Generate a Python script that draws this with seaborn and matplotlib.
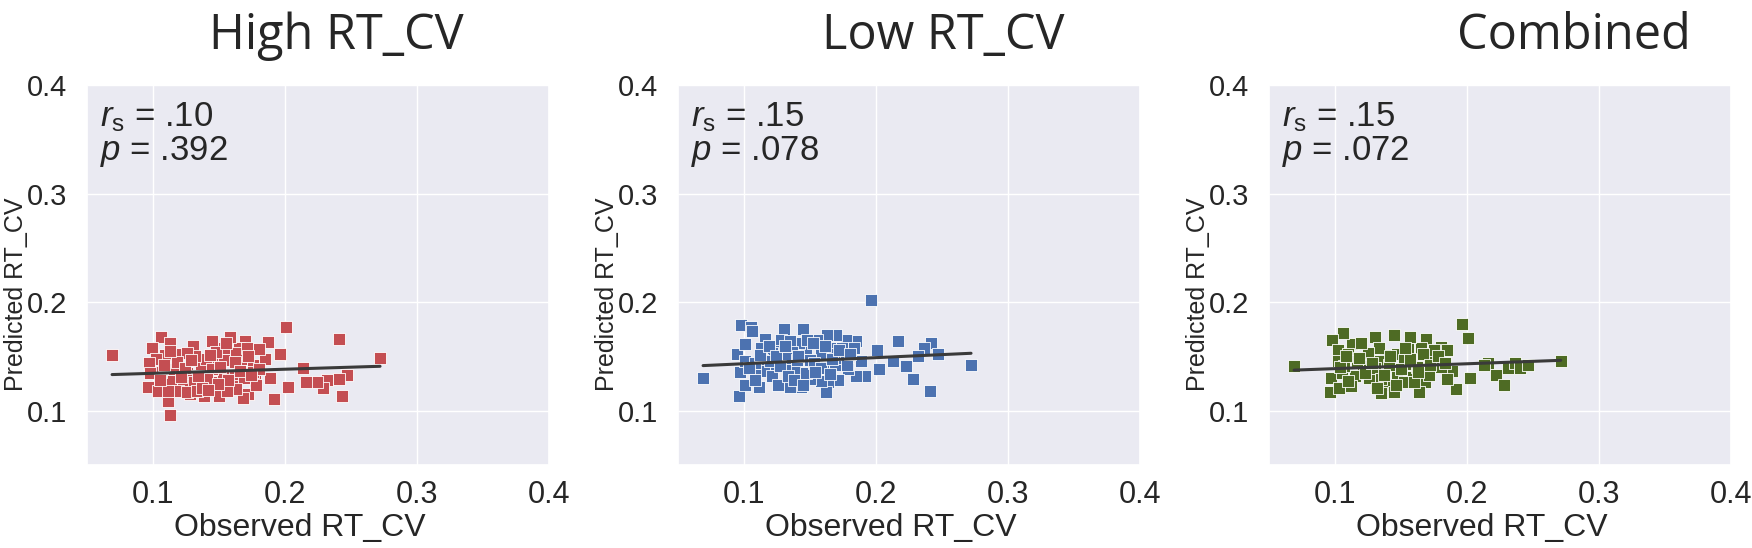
import numpy as np
import pandas as pd
import matplotlib
matplotlib.use("Agg")
import matplotlib.pyplot as plt
import seaborn as sns

# observed / predicted RT_CV
high_x = [0.069, 0.106, 0.113, 0.111, 0.201, 0.241, 0.272, 0.243, 0.247, 0.241,
          0.232, 0.229, 0.224, 0.216, 0.214, 0.202, 0.192, 0.196, 0.187, 0.189,
          0.185, 0.180, 0.176, 0.177, 0.170, 0.165, 0.172, 0.168, 0.158, 0.154,
          0.145, 0.147, 0.154, 0.167, 0.161, 0.160, 0.150, 0.139, 0.128, 0.146,
          0.136, 0.140, 0.130, 0.119, 0.113, 0.109, 0.099, 0.102, 0.097, 0.096,
          0.104, 0.114, 0.116, 0.126, 0.123, 0.132, 0.169, 0.153, 0.176, 0.106,
          0.145, 0.131, 0.119, 0.163, 0.141, 0.180, 0.098, 0.126, 0.148, 0.156,
          0.111, 0.163, 0.171, 0.126, 0.133,
          0.108, 0.118, 0.124, 0.134, 0.143, 0.151, 0.157, 0.162, 0.172, 0.178,
          0.105, 0.121, 0.137, 0.149, 0.166, 0.113, 0.129, 0.155, 0.174, 0.142]
high_y = [0.151, 0.168, 0.096, 0.109, 0.177, 0.166, 0.149, 0.114, 0.133, 0.129,
          0.128, 0.121, 0.126, 0.126, 0.139, 0.122, 0.111, 0.152, 0.163, 0.130,
          0.148, 0.157, 0.142, 0.127, 0.164, 0.158, 0.115, 0.112, 0.168, 0.158,
          0.164, 0.147, 0.147, 0.148, 0.133, 0.123, 0.114, 0.114, 0.115, 0.126,
          0.142, 0.148, 0.160, 0.152, 0.162, 0.151, 0.158, 0.148, 0.144, 0.122,
          0.118, 0.127, 0.138, 0.135, 0.124, 0.150, 0.130, 0.132, 0.136, 0.136,
          0.138, 0.126, 0.118, 0.120, 0.129, 0.138, 0.135, 0.153, 0.154, 0.118,
          0.118, 0.153, 0.158, 0.117, 0.118,
          0.142, 0.145, 0.139, 0.132, 0.151, 0.140, 0.128, 0.145, 0.150, 0.124,
          0.128, 0.131, 0.121, 0.125, 0.137, 0.155, 0.147, 0.162, 0.133, 0.119]

low_x = [0.069, 0.096, 0.098, 0.105, 0.106, 0.196, 0.272, 0.241, 0.242, 0.236,
         0.247, 0.232, 0.228, 0.223, 0.217, 0.213, 0.202, 0.201, 0.192, 0.185,
         0.185, 0.189, 0.179, 0.177, 0.170, 0.169, 0.171, 0.164, 0.162, 0.160,
         0.158, 0.163, 0.155, 0.165, 0.158, 0.145, 0.147, 0.142, 0.150, 0.150,
         0.143, 0.135, 0.139, 0.130, 0.128, 0.135, 0.136, 0.128, 0.121, 0.116,
         0.113, 0.114, 0.115, 0.121, 0.126, 0.111, 0.101, 0.097, 0.095, 0.101,
         0.101, 0.108, 0.124, 0.131, 0.147, 0.183, 0.175, 0.168, 0.153, 0.133,
         0.108, 0.120, 0.174, 0.158, 0.140,
         0.104, 0.112, 0.119, 0.127, 0.133, 0.141, 0.148, 0.154, 0.161, 0.167,
         0.172, 0.178, 0.108, 0.124, 0.138, 0.152, 0.165, 0.180, 0.145, 0.131]
low_y = [0.130, 0.114, 0.179, 0.177, 0.173, 0.202, 0.142, 0.118, 0.162, 0.158,
         0.152, 0.150, 0.129, 0.141, 0.164, 0.146, 0.138, 0.156, 0.132, 0.132,
         0.164, 0.146, 0.138, 0.165, 0.170, 0.142, 0.128, 0.126, 0.117, 0.140,
         0.127, 0.170, 0.165, 0.158, 0.153, 0.175, 0.158, 0.162, 0.147, 0.129,
         0.122, 0.122, 0.137, 0.175, 0.165, 0.164, 0.154, 0.155, 0.153, 0.166,
         0.158, 0.147, 0.137, 0.132, 0.124, 0.122, 0.124, 0.136, 0.152, 0.146,
         0.161, 0.144, 0.143, 0.142, 0.135, 0.158, 0.149, 0.152, 0.144, 0.149,
         0.133, 0.146, 0.158, 0.139, 0.147,
         0.139, 0.151, 0.160, 0.141, 0.132, 0.150, 0.165, 0.136, 0.160, 0.148,
         0.156, 0.142, 0.128, 0.150, 0.128, 0.162, 0.134, 0.152, 0.124, 0.160]

comb_x = [0.069, 0.271, 0.196, 0.201, 0.202, 0.192, 0.189, 0.185, 0.216, 0.222,
          0.228, 0.231, 0.236, 0.240, 0.246, 0.213, 0.180, 0.185, 0.175, 0.169,
          0.168, 0.164, 0.165, 0.157, 0.155, 0.159, 0.155, 0.147, 0.145, 0.147,
          0.140, 0.145, 0.135, 0.131, 0.126, 0.130, 0.138, 0.133, 0.121, 0.113,
          0.115, 0.112, 0.106, 0.098, 0.102, 0.102, 0.097, 0.105, 0.096, 0.103,
          0.110, 0.130, 0.141, 0.152, 0.162, 0.171, 0.180, 0.133, 0.117, 0.125,
          0.135, 0.152, 0.175, 0.107,
          0.104, 0.110, 0.118, 0.123, 0.128, 0.137, 0.142, 0.150, 0.157, 0.160,
          0.167, 0.172, 0.178, 0.108, 0.132, 0.146, 0.163, 0.183, 0.120, 0.153]
comb_y = [0.141, 0.146, 0.180, 0.167, 0.130, 0.120, 0.137, 0.129, 0.144, 0.133,
          0.124, 0.139, 0.144, 0.139, 0.142, 0.142, 0.159, 0.156, 0.146, 0.166,
          0.126, 0.117, 0.158, 0.168, 0.157, 0.131, 0.143, 0.152, 0.170, 0.133,
          0.124, 0.117, 0.116, 0.123, 0.130, 0.168, 0.151, 0.146, 0.141, 0.161,
          0.132, 0.123, 0.172, 0.165, 0.156, 0.146, 0.130, 0.135, 0.117, 0.121,
          0.152, 0.139, 0.142, 0.147, 0.140, 0.133, 0.140, 0.158, 0.146, 0.153,
          0.129, 0.126, 0.156, 0.141,
          0.140, 0.127, 0.149, 0.135, 0.144, 0.133, 0.150, 0.138, 0.148, 0.126,
          0.152, 0.142, 0.150, 0.150, 0.121, 0.124, 0.136, 0.144, 0.162, 0.158]

# fitted line (intercept, slope)
fit_intercept = [0.1307, 0.1377, 0.1343]
fit_slope = [0.0376, 0.0559, 0.0447]

titles = ["High RT_CV", "Low RT_CV", "Combined"]
stats = [("$r_\\mathrm{s}$ = .10", "$p$ = .392"),
         ("$r_\\mathrm{s}$ = .15", "$p$ = .078"),
         ("$r_\\mathrm{s}$ = .15", "$p$ = .072")]
colors = ["#C44E52", "#4C72B0", "#4E6B24"]
title_x = [0.54, 0.574, 0.659]

sns.set_theme(style="darkgrid")
plt.rcParams["font.family"] = ["Liberation Sans", "DejaVu Sans"]
plt.rcParams["mathtext.fontset"] = "custom"
plt.rcParams["mathtext.rm"] = "Liberation Sans"
plt.rcParams["mathtext.it"] = "Liberation Sans:italic"

fig = plt.figure(figsize=(17.52, 5.48), dpi=100)
lefts = [87 / 1752, 678 / 1752, 1269 / 1752]
data = [(high_x, high_y), (low_x, low_y), (comb_x, comb_y)]

for i, (xs, ys) in enumerate(data):
    ax = fig.add_axes([lefts[i], 83 / 548, 462 / 1752, 380 / 548])
    df = pd.DataFrame({"obs": xs, "pred": ys})
    sns.scatterplot(data=df, x="obs", y="pred", marker="s", s=65, color=colors[i],
                    edgecolor="white", linewidth=0.6, ax=ax, zorder=3)
    xr = np.array([min(xs), max(xs)])
    sns.lineplot(x=xr, y=fit_intercept[i] + fit_slope[i] * xr, color="#3a3a3a",
                 lw=2.2, ax=ax, zorder=4)
    ax.set_xlim(0.05, 0.4)
    ax.set_ylim(0.05, 0.4)
    ax.set_xticks([0.1, 0.2, 0.3, 0.4])
    ax.set_yticks([0.1, 0.2, 0.3, 0.4])
    ax.tick_params(axis="x", labelsize=22, pad=5)
    ax.tick_params(axis="y", labelsize=21, pad=8)
    ax.set_xlabel("Observed RT_CV", fontsize=23)
    ax.set_ylabel("Predicted RT_CV", fontsize=18)
    ax.xaxis.set_label_coords(0.46, -0.125)
    ax.yaxis.set_label_coords(-0.127, 0.45)
    ax.set_title(titles[i], fontsize=35, x=title_x[i], pad=26, family="Open Sans")
    ax.text(0.028, 0.96, stats[i][0] + "\n" + stats[i][1], transform=ax.transAxes,
            fontsize=25, va="top", ha="left", linespacing=1.0)

fig.savefig("out.png", dpi=100)
